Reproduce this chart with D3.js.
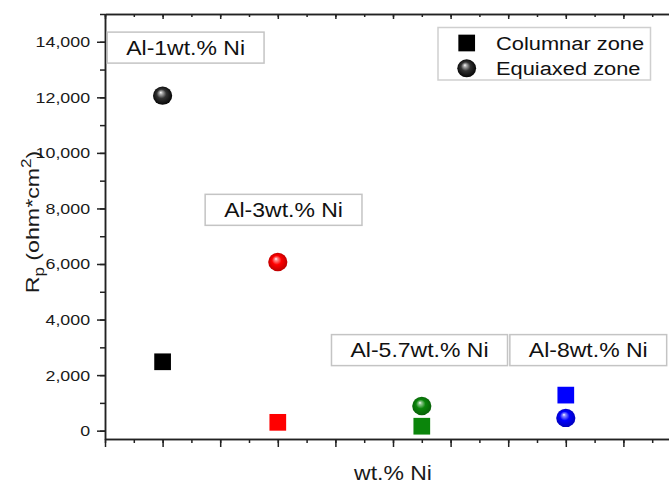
<!DOCTYPE html>
<html>
<meta charset="utf-8">
<style>
  body { margin: 0; background: #fff; }
  svg { display: block; font-family: Arial, "Liberation Sans", sans-serif; }
</style>
<body>
<script src="https://cdn.jsdelivr.net/npm/d3@7"></script>
<div id="chart"></div>
<script>
// Data
var alloys = ["Al-1wt.% Ni", "Al-3wt.% Ni", "Al-5.7wt.% Ni", "Al-8wt.% Ni"];
var niContent = [1, 3, 5.5, 8];              // x position on the wt.% Ni axis
var columnar = [2480, 300, 160, 1280];       // Rp, columnar zone (ohm*cm2)
var equiaxed = [12060, 6070, 890, 460];      // Rp, equiaxed zone (ohm*cm2)
var colors = ["#000000", "#ff0000", "#0b850b", "#0000ff"];
var yTicks = [0, 2000, 4000, 6000, 8000, 10000, 12000, 14000];
// where the alloy labels sit, in data units (x, Rp)
var labelX = [1.4, 3.1, 5.46, 8.39];
var labelY = [13790, 7950, 2900, 2900];

var W = 669, H = 484;
var SX = 1.15; // the source font is a bit wider than Arial

var x = d3.scaleLinear().domain([0, 10]).range([105, 681]);
var y = d3.scaleLinear().domain([-300, 15000]).range([439, 14]);

var svg = d3.select("#chart").append("svg").attr("width", W).attr("height", H);
var defs = svg.append("defs");

// shaded sphere gradient per colour
function shade(c, k) { return d3.interpolateRgb(c, k > 0 ? "#fff" : "#000")(Math.abs(k)); }
colors.forEach(function(c, i) {
  var g = defs.append("radialGradient").attr("id", "ball" + i)
      .attr("cx", "50%").attr("cy", "50%").attr("r", "55%")
      .attr("fx", "40%").attr("fy", "32%");
  var stops = i == 0
    ? [[0, "#ffffff"], [0.14, "#b0b0b0"], [0.45, "#333333"], [1, "#000000"]]
    : [[0, "#ffffff"], [0.14, shade(c, 0.55)], [0.45, c], [1, shade(c, -0.3)]];
  stops.forEach(function(s) { g.append("stop").attr("offset", s[0]).attr("stop-color", s[1]); });
});

// ---- axes ----
var axisColor = "#222";
function styleAxis(g) {
  g.selectAll("path, line").attr("stroke", axisColor).attr("stroke-width", 1.5);
  g.attr("font-family", null).attr("font-size", null);
}

var yMinor = d3.range(-0, 15001, 1000);
var xMinor = d3.range(0, 10.01, 0.5);
var xMajor = d3.range(0, 10.01, 1);

// left
svg.append("g").attr("transform", "translate(105,0)")
  .call(d3.axisLeft(y).tickValues(yMinor).tickSize(5).tickSizeOuter(0).tickFormat(""))
  .call(styleAxis);
var yAx = svg.append("g").attr("transform", "translate(105,0)")
  .call(d3.axisLeft(y).tickValues(yTicks).tickSize(8).tickSizeOuter(0).tickFormat(d3.format(",")))
  .call(styleAxis);
yAx.selectAll("text").attr("x", -13).attr("transform", "scale(" + SX + ",1)")
  .attr("font-size", 15.5).attr("fill", "#1a1a1a");

// right (falls just outside the picture)
svg.append("g").attr("transform", "translate(681,0)")
  .call(d3.axisLeft(y).tickValues(yMinor).tickSize(3).tickSizeOuter(0).tickFormat(""))
  .call(styleAxis);

// bottom
svg.append("g").attr("transform", "translate(0,439)")
  .call(d3.axisBottom(x).tickValues(xMinor).tickSize(4).tickSizeOuter(0).tickFormat(""))
  .call(styleAxis);
svg.append("g").attr("transform", "translate(0,439)")
  .call(d3.axisBottom(x).tickValues(xMajor).tickSize(8).tickSizeOuter(0).tickFormat(""))
  .call(styleAxis);

// top, ticks pointing inward
svg.append("g").attr("transform", "translate(0,14)")
  .call(d3.axisBottom(x).tickValues(xMinor).tickSize(3).tickSizeOuter(0).tickFormat(""))
  .call(styleAxis);
svg.append("g").attr("transform", "translate(0,14)")
  .call(d3.axisBottom(x).tickValues(xMajor).tickSize(5).tickSizeOuter(0).tickFormat(""))
  .call(styleAxis);

// axis titles
svg.append("text").attr("transform", "translate(" + x(5) + ",480) scale(" + SX + ",1)")
  .attr("text-anchor", "middle").attr("font-size", 20).attr("fill", "#1a1a1a")
  .text("wt.% Ni");

var yt = svg.append("text")
  .attr("transform", "translate(38.5,222) rotate(-90) scale(1.22,1)")
  .attr("text-anchor", "middle").attr("font-size", 19).attr("fill", "#1a1a1a");
yt.append("tspan").text("R");
yt.append("tspan").attr("font-size", 14).attr("dy", 5).text("p");
yt.append("tspan").attr("dy", -5).text(" (ohm*cm");
yt.append("tspan").attr("font-size", 14).attr("dy", -8).text("2");
yt.append("tspan").attr("dy", 8).text(")");

// ---- alloy label boxes ----
alloys.forEach(function(name, i) {
  var g = svg.append("g").attr("transform", "translate(" + x(labelX[i]) + "," + y(labelY[i]) + ")");
  var t = g.append("text").attr("transform", "scale(" + SX + ",1)")
    .attr("text-anchor", "middle").attr("y", 7).attr("font-size", 20).attr("fill", "#111")
    .text(name);
  var w = t.node().getComputedTextLength() * SX + 38;
  g.insert("rect", "text").attr("x", -w / 2).attr("y", -15.5).attr("width", w).attr("height", 31)
    .attr("fill", "#fff").attr("stroke", "#c4c4c4").attr("stroke-width", 1.5);
});

// ---- markers ----
var S = 16.7;
svg.append("g").selectAll("rect").data(columnar).join("rect")
  .attr("x", function(d, i) { return x(niContent[i]) - S / 2; })
  .attr("y", function(d) { return y(d) - S / 2; })
  .attr("width", S).attr("height", S)
  .attr("fill", function(d, i) { return colors[i]; });

svg.append("g").selectAll("ellipse").data(equiaxed).join("ellipse")
  .attr("cx", function(d, i) { return x(niContent[i]); })
  .attr("cy", function(d) { return y(d); })
  .attr("rx", 9.6).attr("ry", 9.2)
  .attr("fill", function(d, i) { return "url(#ball" + i + ")"; });

// ---- legend ----
var lg = svg.append("g").attr("transform", "translate(438,27.5)");
lg.append("rect").attr("width", 212.5).attr("height", 52.5)
  .attr("fill", "#fff").attr("stroke", "#cfcfcf").attr("stroke-width", 1.5);
lg.append("rect").attr("x", 28.7 - S / 2).attr("y", 15.5 - S / 2).attr("width", S).attr("height", S)
  .attr("fill", colors[0]);
lg.append("ellipse").attr("cx", 28.7).attr("cy", 40.8).attr("rx", 9.4).attr("ry", 9)
  .attr("fill", "url(#ball0)");
lg.append("text").attr("transform", "translate(58,22.5) scale(" + SX + ",1)")
  .attr("font-size", 19).attr("fill", "#111").text("Columnar zone");
lg.append("text").attr("transform", "translate(58,47) scale(" + SX + ",1)")
  .attr("font-size", 19).attr("fill", "#111").text("Equiaxed zone");
</script>
</body>
</html>
